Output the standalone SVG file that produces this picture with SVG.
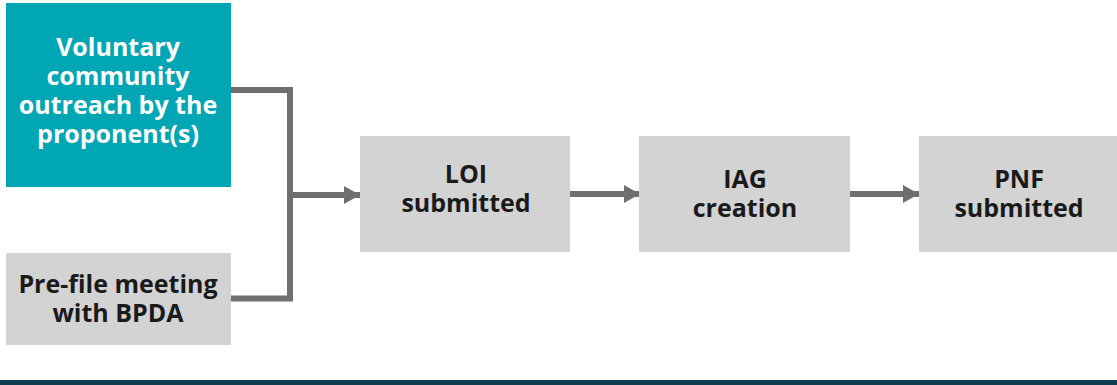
<svg xmlns="http://www.w3.org/2000/svg" width="1117" height="385" viewBox="0 0 1117 385">
<style>
.box{fill:#d3d3d3}
.teal{fill:#00a6b4}
.t{font-family:"Open Sans","Liberation Sans",sans-serif;font-weight:700;font-size:25px;text-anchor:middle;fill:#1a1a1a}
.w{fill:#ffffff}
.c{fill:none;stroke:#6f6f6f;stroke-width:6}
</style>
<defs>
<marker id="ah" markerUnits="userSpaceOnUse" markerWidth="18" markerHeight="20" refX="16" refY="9" orient="auto">
<path d="M0,0 L16,9 L0,18 Z" fill="#6f6f6f"/>
</marker>
</defs>
<rect width="1117" height="385" fill="#ffffff"/>
<g id="connectors">
<polyline class="c" points="231,90 290,90 290,298.5 231,298.5"/>
<line class="c" x1="290" y1="195" x2="360" y2="195" marker-end="url(#ah)"/>
<line class="c" x1="570" y1="194" x2="640" y2="194" marker-end="url(#ah)"/>
<line class="c" x1="850" y1="194" x2="919" y2="194" marker-end="url(#ah)"/>
</g>
<g id="node-outreach">
<rect class="teal" x="6" y="3" width="225" height="184"/>
<text class="t w" x="118"><tspan x="118" y="56">Voluntary</tspan><tspan x="118" y="85">community</tspan><tspan x="118" y="114">outreach by the</tspan><tspan x="118" y="143">proponent(s)</tspan></text>
</g>
<g id="node-prefile">
<rect class="box" x="6" y="253" width="225" height="92"/>
<text class="t"><tspan x="118" y="293">Pre-file meeting</tspan><tspan x="118" y="322">with BPDA</tspan></text>
</g>
<g id="node-loi">
<rect class="box" x="360" y="136" width="210" height="116"/>
<text class="t"><tspan x="466" y="183">LOI</tspan><tspan x="466" y="212">submitted</tspan></text>
</g>
<g id="node-iag">
<rect class="box" x="639" y="136" width="211" height="116"/>
<text class="t"><tspan x="745" y="188">IAG</tspan><tspan x="745" y="217">creation</tspan></text>
</g>
<g id="node-pnf">
<rect class="box" x="919" y="136" width="198" height="116"/>
<text class="t"><tspan x="1019" y="188">PNF</tspan><tspan x="1019" y="217">submitted</tspan></text>
</g>
<rect x="0" y="380" width="1117" height="5" fill="#0d3d4f"/>
</svg>
